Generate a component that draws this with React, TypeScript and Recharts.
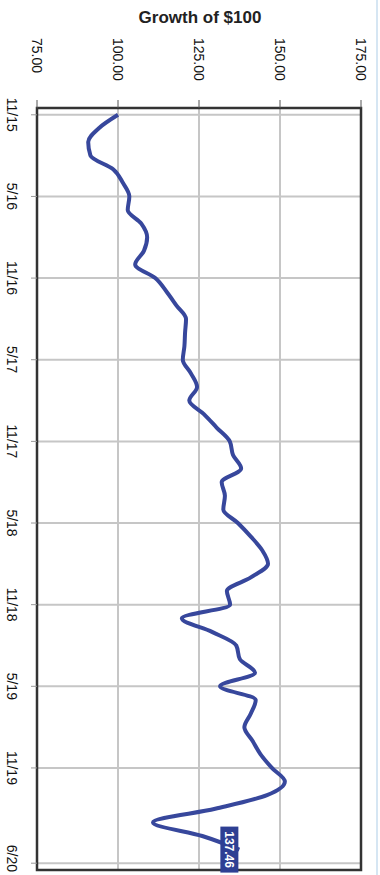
import React from "react";
import {
  LineChart,
  Line,
  XAxis,
  YAxis,
  CartesianGrid,
  ReferenceArea,
} from "recharts";

const months = [
  "11/15", "12/15", "1/16", "2/16", "3/16", "4/16", "5/16", "6/16", "7/16", "8/16", "9/16", "10/16",
  "11/16", "12/16", "1/17", "2/17", "3/17", "4/17", "5/17", "6/17", "7/17", "8/17", "9/17", "10/17",
  "11/17", "12/17", "1/18", "2/18", "3/18", "4/18", "5/18", "6/18", "7/18", "8/18", "9/18", "10/18",
  "11/18", "12/18", "1/19", "2/19", "3/19", "4/19", "5/19", "6/19", "7/19", "8/19", "9/19", "10/19",
  "11/19", "12/19", "1/20", "2/20", "3/20", "4/20", "5/20",
];

const growth = [
  100, 94, 90.8, 91.5, 98.5, 101.5, 103.5, 103, 107.2, 109, 108, 105.3,
  111.5, 115, 118, 121, 120.7, 120.5, 120, 122.5, 124.4, 122, 126.5, 130.5,
  134.5, 135.5, 138, 132, 133, 132.5, 137, 141, 144.5, 146.3, 141, 133.6,
  134.6, 119.7, 129, 136.5, 137.6, 142.3, 131.5, 142.5, 141, 139, 141.5, 144,
  147.5, 151.5, 146, 130, 110.8, 126, 137.46,
];

const valueTicks = [75, 100, 125, 150, 175];
const dateTicks = [0, 6, 12, 18, 24, 30, 36, 42, 48, 54, 55];
const dateTickLabels = ["11/15", "5/16", "11/16", "5/17", "11/17", "5/18", "11/18", "5/19", "11/19", "", "6/20"];

const data = months.map((m, i) => ({ i, month: m, value: growth[i] }));

const FONT = "'Liberation Sans', Arial, sans-serif";
const LINE_COLOR = "#37479c";

const ValueTick = (props: any) => {
  const { x, payload } = props;
  return (
    <text
      x={x}
      y={38}
      transform={`rotate(90 ${x} 38)`}
      textAnchor="start"
      dominantBaseline="central"
      fontSize={14}
      fontFamily={FONT}
      fill="#111"
    >
      {Number(payload.value).toFixed(2)}
    </text>
  );
};

const DateTick = (props: any) => {
  const { y, payload } = props;
  const idx = dateTicks.indexOf(payload.value);
  const label = idx >= 0 ? dateTickLabels[idx] : "";
  // the last label would run off the bottom edge, so end it at the edge instead
  const last = idx === dateTicks.length - 1;
  const ty = last ? Math.min(y + 9, 872) : y;
  return (
    <text
      x={12}
      y={ty}
      transform={`rotate(90 12 ${ty})`}
      textAnchor={last ? "end" : "middle"}
      dominantBaseline="central"
      fontSize={14}
      fontFamily={FONT}
      fill="#111"
    >
      {label}
    </text>
  );
};

const EndLabel = (props: any) => {
  const { x, y, index, value } = props;
  if (index !== data.length - 1) return null;
  const cx = x - 10;
  return (
    <g>
      <rect x={x - 19} y={y - 23} width={18} height={46} fill="#2e3f93" />
      <text
        x={cx}
        y={y}
        transform={`rotate(90 ${cx} ${y})`}
        textAnchor="middle"
        dominantBaseline="central"
        fontSize={12}
        fontWeight="bold"
        fontFamily={FONT}
        fill="#fff"
      >
        {Number(value).toFixed(2)}
      </text>
    </g>
  );
};

export default function App() {
  return (
    <div
      style={{
        position: "absolute",
        left: 0,
        top: 0,
        width: 380,
        height: 875,
        background: "#fff",
        overflow: "hidden",
      }}
    >
      <div
        style={{
          position: "absolute",
          left: 0,
          width: 400,
          top: 8,
          textAlign: "center",
          fontFamily: FONT,
          fontWeight: "bold",
          fontSize: 17,
          color: "#222",
        }}
      >
        Growth of $100
      </div>
      <div
        style={{
          position: "absolute",
          right: 2,
          top: 0,
          width: 2,
          height: 875,
          background: "#d6e6f3",
        }}
      />
      <LineChart
        width={380}
        height={875}
        data={data}
        layout="vertical"
        margin={{ top: 38, right: 19, bottom: 5, left: 8 }}
      >
        <CartesianGrid stroke="#c6c6c6" strokeWidth={2} />
        <XAxis
          type="number"
          orientation="top"
          domain={[75, 175]}
          ticks={valueTicks}
          height={70}
          axisLine={false}
          tickLine={{ stroke: "#555" }}
          tickSize={8}
          tick={<ValueTick />}
        />
        <YAxis
          type="number"
          dataKey="i"
          domain={[-0.5, 55.5]}
          ticks={dateTicks}
          width={29}
          axisLine={false}
          tickLine={{ stroke: "#999" }}
          tickSize={6}
          tick={<DateTick />}
        />
        <ReferenceArea
          x1={75}
          x2={175}
          y1={-0.5}
          y2={55.5}
          fill="none"
          stroke="#333"
          strokeWidth={2.5}
        />
        <Line
          dataKey="value"
          type="monotone"
          stroke={LINE_COLOR}
          strokeWidth={4}
          dot={false}
          isAnimationActive={false}
          label={<EndLabel />}
        />
      </LineChart>
    </div>
  );
}
